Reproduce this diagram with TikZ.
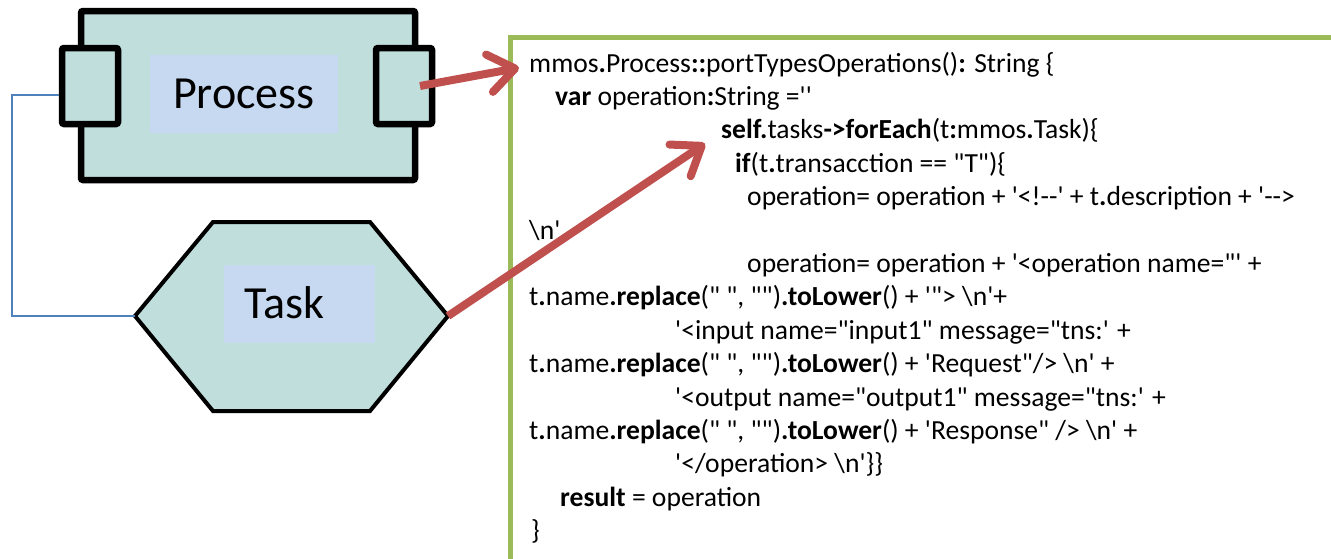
\documentclass[tikz,border=0pt]{standalone}
\usepackage{fontspec}
\setmainfont{Carlito}[Ligatures=TeXOff]
\usetikzlibrary{arrows.meta}
\definecolor{shapefill}{HTML}{BFDEDC}
\definecolor{labelfill}{HTML}{C6D9F1}
\definecolor{linkblue}{HTML}{4F81BD}
\definecolor{arrowred}{HTML}{C0504D}
\definecolor{framegreen}{HTML}{9BBB59}
\begin{document}
\begin{tikzpicture}[x=1pt,y=-1pt,
  block/.style={draw=black, fill=shapefill, line width=6.5pt, rounded corners=2pt, inner sep=0pt},
  hexa/.style={draw=black, fill=shapefill, line width=4pt},
  labelbox/.style={fill=labelfill, inner sep=0pt, font=\fontsize{46}{50}\selectfont},
  labeltext/.style={inner sep=0pt, anchor=base west, font=\fontsize{46}{50}\selectfont},
  codeline/.style={inner sep=0pt, anchor=base west, font=\fontsize{27.6}{33.4}\selectfont},
  pointer/.style={draw=arrowred, line width=8pt,
    -{Straight Barb[length=26pt,width=38pt,round]}},
  link/.style={draw=linkblue, line width=1.5pt},
  frame/.style={draw=framegreen, line width=5pt}]
\useasboundingbox (0,0) rectangle (1331,558);
\clip (0,0) rectangle (1331,558);

% Process component with its two ports
\node[block, minimum width=334pt, minimum height=169pt] (proc) at (248,95.5) {};
\node[block, minimum width=56pt, minimum height=76pt] (portL) at (90,86) {};
\node[block, minimum width=56pt, minimum height=76pt] (portR) at (404,86) {};
\node[labelbox, minimum width=188pt, minimum height=78pt] (plabel) at (244,94) {Process};

% Task hexagon
\coordinate (taskL) at (135,316);
\coordinate (taskR) at (448,316);
\draw[hexa] (taskL) -- (213,222) -- (370,222) -- (taskR) -- (370,411) -- (213,411) -- cycle;
\node[labelbox, minimum width=151pt, minimum height=78pt] (tlabel) at (299.5,304) {};
\node[labeltext] (ttext) at (244,318) {Task};

% link between the process port and the task
\draw[link] ([yshift=-9pt]portL.west) -- ++(-47,0) |- (taskL);

% code frame
\draw[frame] (510,37) rectangle (1360,590);

% code listing
\node[codeline] (l1)  at (529,72.0)  {mmos\textbf{.}Process\textbf{::}portTypesOperations()\textbf{:} String \{};
\node[codeline] (l2)  at (555,105.4) {\textbf{var} operation\textbf{:}String =''};
\node[codeline] (l3)  at (721,138.8) {\textbf{self.}tasks\textbf{->forEach}(t\textbf{:}mmos\textbf{.}Task)\{};
\node[codeline] (l4)  at (735,172.2) {\textbf{if}(t\textbf{.}transacction == "T")\{};
\node[codeline] (l5)  at (747,205.6) {operation= operation + '<!--' + t\textbf{.}description + '-->};
\node[codeline] (l6)  at (529,239.0) {\textbackslash n'};
\node[codeline] (l7)  at (747,272.4) {operation= operation + '<operation name="' +};
\node[codeline] (l8)  at (529,305.8) {t\textbf{.}name\textbf{.replace}(" ", "")\textbf{.toLower}() + '"> \textbackslash n'+};
\node[codeline] (l9)  at (675,339.2) {'<input name="input1" message="tns:' +};
\node[codeline] (l10) at (529,372.6) {t\textbf{.}name\textbf{.replace}(" ", "")\textbf{.toLower}() + 'Request"/> \textbackslash n' +};
\node[codeline] (l11) at (675,406.0) {'<output name="output1" message="tns:' +};
\node[codeline] (l12) at (529,439.4) {t\textbf{.}name\textbf{.replace}(" ", "")\textbf{.toLower}() + 'Response" /> \textbackslash n' +};
\node[codeline] (l13) at (675,472.8) {'</operation> \textbackslash n'\}\}};
\node[codeline] (l14) at (560,506.2) {\textbf{result} = operation};
\node[codeline] (l15) at (531,539.6) {\}};

% pointers from the model elements to the code
\draw[pointer] ([xshift=16pt]portR.center) -- ([xshift=-10pt,yshift=-3.5pt]l1.west);
\draw[pointer] (taskR) -- ([xshift=-16pt,yshift=-13pt]l3.west);
\end{tikzpicture}
\end{document}
